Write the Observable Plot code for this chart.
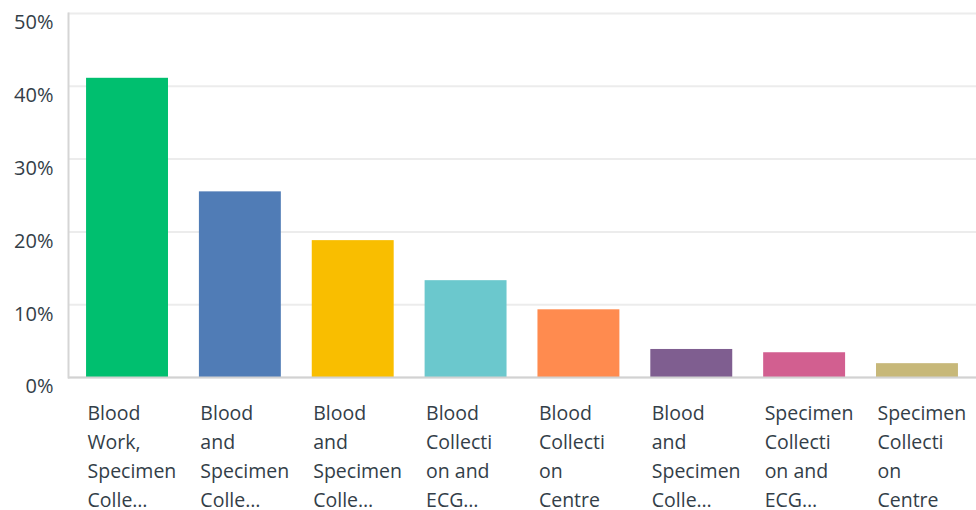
<!DOCTYPE html>
<html>
<head>
<meta charset="utf-8">
<script src="https://cdn.jsdelivr.net/npm/d3@7"></script>
<script src="https://cdn.jsdelivr.net/npm/@observablehq/plot@0.6"></script>
<style>
  html, body { margin: 0; padding: 0; background: #fff; }
  #chart { width: 976px; height: 510px; }
</style>
</head>
<body>
<div id="chart"></div>
<script>
const tickLabels = [
  "Blood\nWork,\nSpecimen\nColle…",
  "Blood\nand\nSpecimen\nColle…",
  "Blood\nand\nSpecimen\nColle…",
  "Blood\nCollecti\non and\nECG…",
  "Blood\nCollecti\non\nCentre",
  "Blood\nand\nSpecimen\nColle…",
  "Specimen\nCollecti\non and\nECG…",
  "Specimen\nCollecti\non\nCentre"
];
const values = [41.1, 25.5, 18.8, 13.3, 9.3, 3.85, 3.4, 1.9];
const colors = ["#00bf6f", "#507cb6", "#f9be00", "#6bc8cd", "#ff8b4f", "#7f5e90", "#d25f90", "#c7b879"];
const yTicks = [0, 10, 20, 30, 40, 50];

const indices = d3.range(values.length);
const data = indices.map(i => ({i, value: values[i], color: colors[i]}));

const chart = Plot.plot({
  width: 976,
  height: 510,
  marginLeft: 68,
  marginRight: 0,
  marginTop: 13,
  marginBottom: 133,
  style: {fontFamily: "'Open Sans', sans-serif", color: "#333e48", background: "#fff"},
  x: {type: "band", domain: indices, paddingInner: 0.274, paddingOuter: 0.16, round: false},
  y: {domain: [0, 50]},
  marks: [
    Plot.gridY(yTicks, {stroke: "#ececec", strokeOpacity: 1, strokeWidth: 2}),
    Plot.barY(data, {x: "i", y: "value", fill: "color"}),
    Plot.ruleY([0], {stroke: "#d2d2d2", strokeWidth: 2}),
    Plot.frame({anchor: "left", stroke: "#d5d5d5", strokeWidth: 2}),
    Plot.axisY(yTicks, {
      tickSize: 0, tickPadding: 15, fontSize: 20, dy: 9.5,
      tickFormat: d => d + "%", label: null
    }),
    Plot.axisX(indices, {
      tickSize: 0, tickPadding: 22, fontSize: 19.5, lineHeight: 1.487,
      textAnchor: "start", lineAnchor: "top", dx: -40,
      tickFormat: i => tickLabels[i], label: null
    })
  ]
});
document.getElementById("chart").appendChild(chart);
</script>
</body>
</html>
